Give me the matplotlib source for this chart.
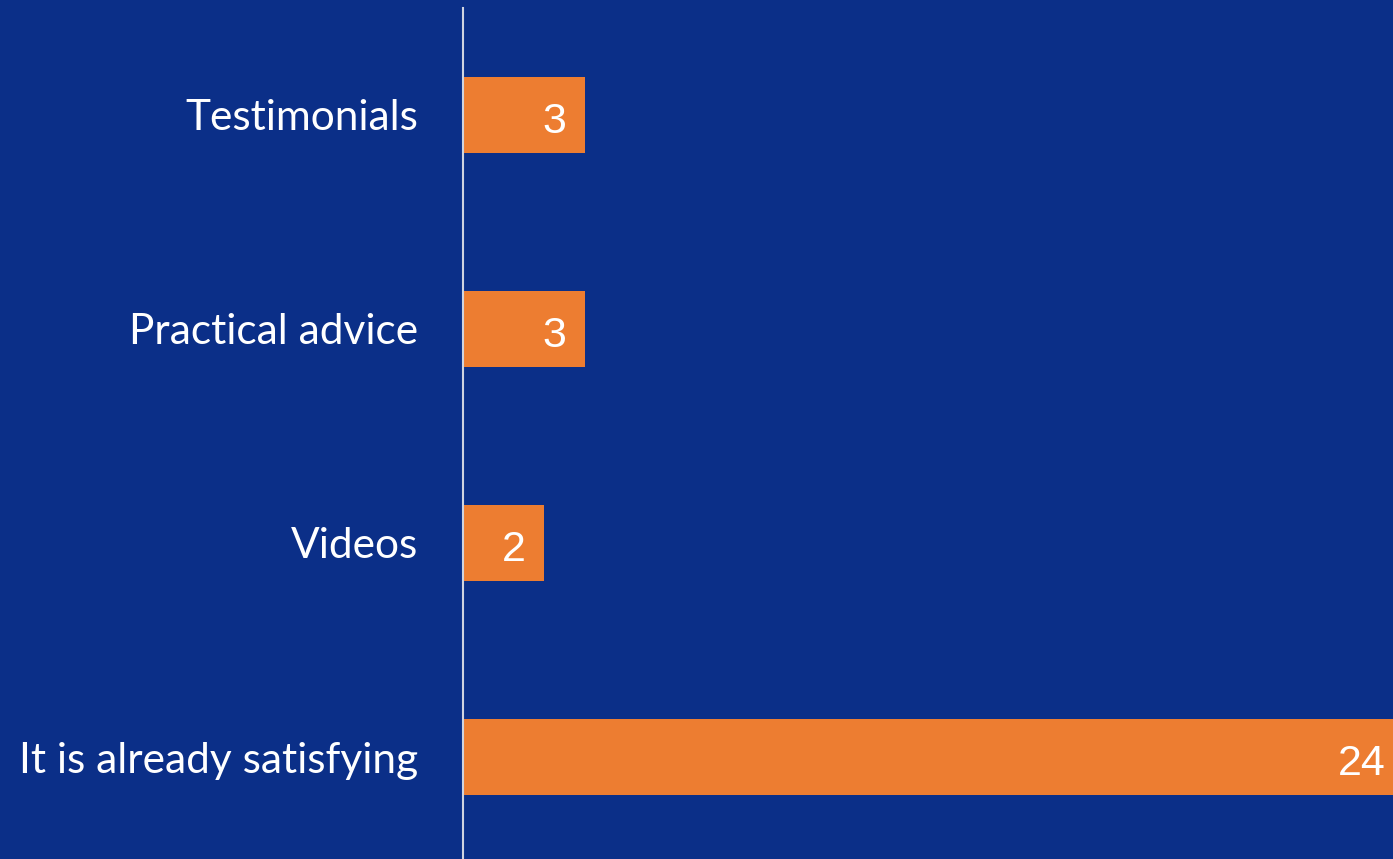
import numpy as np
import matplotlib.pyplot as plt

categories = ["Testimonials", "Practical advice", "Videos", "It is already satisfying"]
values = [3, 3, 2, 24]

bg = '#0B2F88'
bar_color = '#ED7D31'

fig = plt.figure(figsize=(13.93, 8.59), dpi=100, facecolor=bg)
# axes spans from the spine at x=463px to the right edge; slightly past bottom
ax = fig.add_axes([463 / 1393, -5 / 859, 1 - 463 / 1393, 856 / 859])
ax.set_facecolor(bg)

y = np.arange(len(categories))
ax.barh(y, values, height=0.355, color=bar_color, zorder=2)

xmax = 22.9
ax.set_xlim(0, xmax)
ax.set_ylim(len(categories) - 0.5, -0.5)

ax.set_yticks(y)
ax.set_yticklabels(categories, fontsize=30.5, color='white', family='Lato')
ax.tick_params(axis='y', length=0, pad=32)
ax.set_xticks([])

for s in ['top', 'right', 'bottom']:
    ax.spines[s].set_visible(False)
ax.spines['left'].set_color('#D0D4E0')
ax.spines['left'].set_linewidth(1.5)
ax.spines['left'].set_zorder(3)

for yi, v in zip(y, values):
    # the long bar runs past the edge, so its label sits at the visible end
    if v > xmax:
        x, dx = xmax, -5
    else:
        x, dx = v, -13
    ax.annotate(str(v), xy=(x, yi), xytext=(dx, -13), textcoords='offset points',
                ha='right', va='baseline', fontsize=31, color='white', family='Liberation Sans')

fig.savefig('out.png', dpi=100, facecolor=bg)
